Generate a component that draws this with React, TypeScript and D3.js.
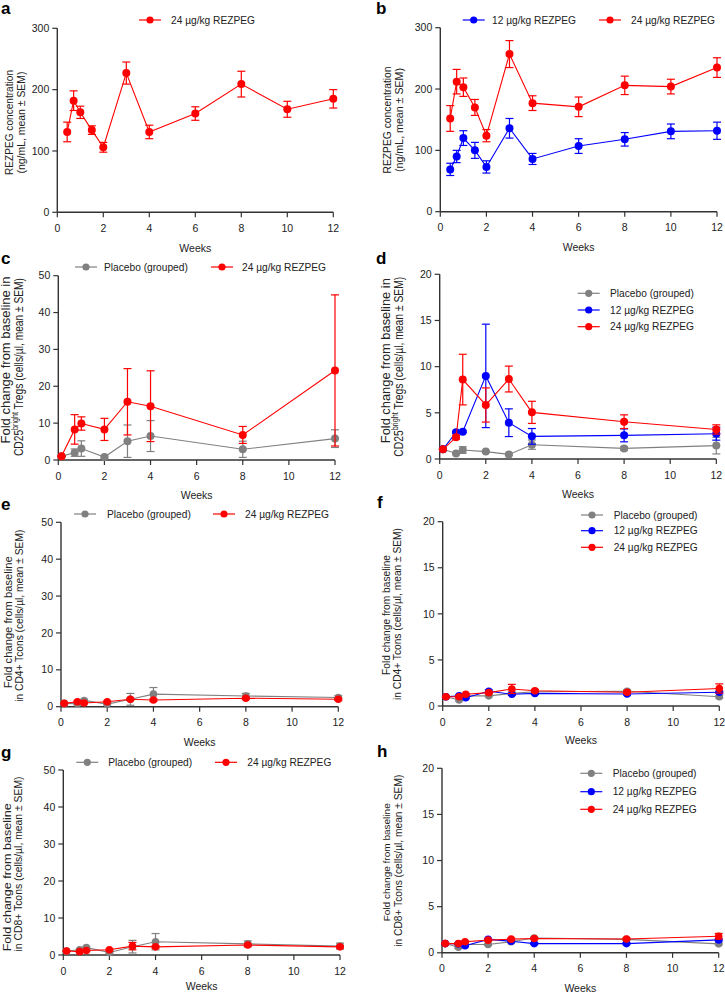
import React from "react";
import * as d3 from "d3";

// ---------- data ----------
const weeksPK = [0.43, 0.71, 1, 1.5, 2, 3, 4, 6, 8, 10, 12];
const weeksPD = [0.14, 0.71, 1, 2, 3, 4, 8, 12];
const xTicks = [0, 2, 4, 6, 8, 10, 12];
const yTicksPK = [0, 100, 200, 300];
const yTicksWide = [0, 10, 20, 30, 40, 50];
const yTicksNarrow = [0, 5, 10, 15, 20];

const seriesNames = ["Placebo (grouped)", "12 µg/kg REZPEG", "24 µg/kg REZPEG"];

// a: PK, 24 µg/kg
const aRez24Mean = [131, 182, 163, 134, 106, 227, 131, 161, 209, 168, 185];
const aRez24Sem = [16, 16, 10, 7, 8, 18, 11, 11, 21, 13, 15];
// b: PK, 12 and 24 µg/kg
const bRez12Mean = [69, 90, 120, 100, 73, 136, 86, 107, 118, 131, 132];
const bRez12Sem = [10, 10, 12, 13, 10, 16, 9, 12, 11, 12, 14];
const bRez24Mean = [152, 212, 203, 170, 124, 257, 177, 171, 206, 204, 235];
const bRez24Sem = [21, 20, 15, 13, 10, 22, 12, 16, 15, 12, 16];
// c: Tregs
const cPlaceboMean = [1.0, 2.0, 3.1, 0.8, 5.1, 6.5, 2.9, 5.8];
const cPlaceboSem = [0.2, 1.0, 2.1, 0.3, 4.4, 4.2, 2.2, 2.4];
const cRez24Mean = [1.0, 8.3, 9.9, 8.3, 15.8, 14.6, 6.8, 24.3];
const cRez24Sem = [0.1, 4.0, 1.8, 3.0, 9.0, 9.6, 2.3, 20.5];
// d: Tregs
const dPlaceboMean = [1.05, 0.6, 0.97, 0.8, 0.5, 1.55, 1.15, 1.45];
const dPlaceboSem = [0.05, 0.1, 0.35, 0.1, 0.1, 0.5, 0.2, 0.9];
const dRez12Mean = [1.05, 2.9, 2.96, 9.0, 3.93, 2.45, 2.56, 2.74];
const dRez12Sem = [0.05, 0.1, 0.1, 5.6, 1.5, 0.85, 0.7, 0.7];
const dRez24Mean = [1.05, 2.35, 8.6, 5.85, 8.66, 5.05, 4.04, 3.2];
const dRez24Sem = [0.05, 0.2, 2.74, 1.85, 1.4, 1.2, 0.74, 0.5];
// e: CD4+ Tcons
const ePlaceboMean = [0.9, 0.8, 1.7, 0.7, 2.0, 3.4, 2.9, 2.5];
const ePlaceboSem = [0.1, 0.2, 0.3, 0.2, 1.6, 1.8, 0.7, 0.5];
const eRez24Mean = [0.9, 1.35, 1.0, 1.35, 2.0, 1.8, 2.3, 2.0];
const eRez24Sem = [0.1, 0.2, 0.2, 0.2, 0.3, 0.3, 0.3, 0.3];
// f: CD4+ Tcons
const fPlaceboMean = [1.0, 0.65, 1.1, 1.1, 1.37, 1.55, 1.6, 1.0];
const fPlaceboSem = [0.05, 0.1, 0.1, 0.1, 0.15, 0.15, 0.15, 0.15];
const fRez12Mean = [1.0, 1.1, 0.9, 1.6, 1.27, 1.37, 1.3, 1.5];
const fRez12Sem = [0.05, 0.1, 0.1, 0.15, 0.1, 0.1, 0.1, 0.1];
const fRez24Mean = [1.0, 1.0, 1.27, 1.45, 1.85, 1.66, 1.5, 1.9];
const fRez24Sem = [0.05, 0.1, 0.1, 0.1, 0.5, 0.15, 0.15, 0.5];
// g: CD8+ Tcons
const gPlaceboMean = [1.1, 1.4, 2.0, 0.7, 2.25, 3.6, 3.0, 2.4];
const gPlaceboSem = [0.1, 0.2, 0.3, 0.2, 1.7, 2.2, 0.8, 0.8];
const gRez24Mean = [1.1, 0.9, 1.2, 1.4, 2.4, 2.2, 2.7, 2.2];
const gRez24Sem = [0.1, 0.2, 0.2, 0.2, 1.0, 0.3, 0.3, 0.3];
// h: CD8+ Tcons
const hPlaceboMean = [1.0, 0.6, 0.9, 0.9, 1.2, 1.6, 1.45, 0.97];
const hPlaceboSem = [0.05, 0.1, 0.1, 0.1, 0.1, 0.1, 0.1, 0.1];
const hRez12Mean = [1.0, 0.97, 0.76, 1.45, 1.26, 1.0, 1.0, 1.4];
const hRez12Sem = [0.05, 0.1, 0.1, 0.1, 0.1, 0.1, 0.1, 0.1];
const hRez24Mean = [1.0, 1.0, 1.2, 1.37, 1.48, 1.55, 1.5, 1.8];
const hRez24Sem = [0.05, 0.1, 0.1, 0.1, 0.1, 0.1, 0.1, 0.3];

// ---------- styles ----------
const FONT = "'Liberation Sans', Arial, sans-serif";
const GRAY = "#808080";
const BLUE = "#0000ff";
const RED = "#ff0000";
const AXIS = "#333333";

type Series = { name: string; color: string; x: number[]; mean: number[]; sem: number[] };
type YLine = { parts: { t: string; sup?: boolean }[]; x: number; cy: number; len: number; fs: number };
type LegendItem = { mx: number; tx: number; y: number };
type PanelCfg = {
  label: string;
  lx: number;
  ly: number;
  left: number;
  right: number;
  top: number;
  bottom: number;
  ymax: number;
  yTicks: number[];
  series: Series[];
  ytitle: YLine[];
  legend: LegendItem[];
  r: number;
  weeksDy: number;
};

function Panel({ cfg }: { cfg: PanelCfg }) {
  const x = d3.scaleLinear().domain([0, 12]).range([cfg.left, cfg.right]);
  const y = d3.scaleLinear().domain([0, cfg.ymax]).range([cfg.bottom, cfg.top]);
  const line = d3
    .line<[number, number]>()
    .x((d) => x(d[0]))
    .y((d) => y(d[1]));
  const cap = 4;
  return (
    <g>
      <text x={cfg.lx} y={cfg.ly} fontFamily={FONT} fontWeight="bold" fontSize={17} fill="#000">
        {cfg.label}
      </text>
      {/* axes */}
      <line x1={cfg.left} x2={cfg.left} y1={y(cfg.ymax)} y2={cfg.bottom} stroke={AXIS} strokeWidth={1.4} />
      <line x1={cfg.left} x2={cfg.right} y1={cfg.bottom} y2={cfg.bottom} stroke={AXIS} strokeWidth={1.4} />
      {cfg.yTicks.map((t) => (
        <g key={"y" + t}>
          <line x1={cfg.left - 5} x2={cfg.left} y1={y(t)} y2={y(t)} stroke={AXIS} strokeWidth={1.2} />
          <text x={cfg.left - 8} y={y(t)} dy="0.35em" textAnchor="end" fontFamily={FONT} fontSize={10.5} fill="#222">
            {t}
          </text>
        </g>
      ))}
      {xTicks.map((t) => (
        <g key={"x" + t}>
          <line x1={x(t)} x2={x(t)} y1={cfg.bottom} y2={cfg.bottom + 5} stroke={AXIS} strokeWidth={1.2} />
          <text x={x(t)} y={cfg.bottom + 16} dy="0.35em" textAnchor="middle" fontFamily={FONT} fontSize={10.5} fill="#222">
            {t}
          </text>
        </g>
      ))}
      <text
        x={(cfg.left + cfg.right) / 2}
        y={cfg.bottom + cfg.weeksDy}
        dy="0.35em"
        textAnchor="middle"
        fontFamily={FONT}
        fontSize={10.5}
        fill="#222"
      >
        Weeks
      </text>
      {cfg.ytitle.map((l, i) => (
        <text
          key={"yt" + i}
          transform={`translate(${l.x},${l.cy}) rotate(-90)`}
          textAnchor="middle"
          fontFamily={FONT}
          fontSize={l.fs}
          fill="#222"
          textLength={l.len}
          lengthAdjust="spacingAndGlyphs"
        >
          {l.parts.map((p, j) =>
            p.sup ? (
              <tspan key={j} fontSize={l.fs * 0.7} dy={-l.fs * 0.38}>
                {p.t}
              </tspan>
            ) : (
              <tspan key={j} dy={j > 0 && l.parts[j - 1].sup ? l.fs * 0.38 : 0}>
                {p.t}
              </tspan>
            )
          )}
        </text>
      ))}
      {/* series */}
      {cfg.series.map((s, si) => {
        const pts: [number, number][] = s.x.map((xv, i) => [xv, s.mean[i]]);
        return (
          <g key={"s" + si}>
            <path d={line(pts) || ""} fill="none" stroke={s.color} strokeWidth={1.1} />
            {s.x.map((xv, i) => {
              const hi = y(s.mean[i] + s.sem[i]);
              const lo = y(Math.max(0, s.mean[i] - s.sem[i]));
              const cx = x(xv);
              return (
                <g key={i} stroke={s.color} strokeWidth={1.2}>
                  <line x1={cx} x2={cx} y1={hi} y2={lo} />
                  <line x1={cx - cap} x2={cx + cap} y1={hi} y2={hi} />
                  <line x1={cx - cap} x2={cx + cap} y1={lo} y2={lo} />
                </g>
              );
            })}
            {s.x.map((xv, i) => (
              <circle key={"c" + i} cx={x(xv)} cy={y(s.mean[i])} r={cfg.r} fill={s.color} />
            ))}
          </g>
        );
      })}
      {/* legend */}
      {cfg.legend.map((lg, i) => {
        const s = cfg.series[i];
        return (
          <g key={"lg" + i}>
            <line x1={lg.mx - 11} x2={lg.mx + 11} y1={lg.y} y2={lg.y} stroke={s.color} strokeWidth={1.2} />
            <circle cx={lg.mx} cy={lg.y} r={3.6} fill={s.color} />
            <text x={lg.tx} y={lg.y} dy="0.35em" fontFamily={FONT} fontSize={10.2} fill="#222">
              {s.name}
            </text>
          </g>
        );
      })}
    </g>
  );
}

const mk = (name: string, color: string, xs: number[], mean: number[], sem: number[]): Series => ({
  name,
  color,
  x: xs,
  mean,
  sem,
});

const concLines = (x1: number, x2: number, cy: number, len1: number, len2: number): YLine[] => [
  { parts: [{ t: "REZPEG concentration" }], x: x1, cy, len: len1, fs: 10.2 },
  { parts: [{ t: "(ng/mL, mean ± SEM)" }], x: x2, cy, len: len2, fs: 10.3 },
];

const tregLine2 = (x: number, cy: number, len: number, fs: number): YLine => ({
  parts: [{ t: "CD25" }, { t: "bright", sup: true }, { t: " Tregs (cells/µl, mean ± SEM)" }],
  x,
  cy,
  len,
  fs,
});

const panels: PanelCfg[] = [
  {
    label: "a",
    lx: 1,
    ly: 14,
    left: 57.3,
    right: 333.3,
    top: 28.3,
    bottom: 212.3,
    ymax: 300,
    yTicks: yTicksPK,
    series: [mk(seriesNames[2], RED, weeksPK, aRez24Mean, aRez24Sem)],
    ytitle: concLines(12.5, 25, 122.5, 105, 102),
    legend: [{ mx: 150, tx: 171, y: 20 }],
    r: 4,
    weeksDy: 36,
  },
  {
    label: "b",
    lx: 376,
    ly: 14,
    left: 440.3,
    right: 717,
    top: 27.7,
    bottom: 211.7,
    ymax: 300,
    yTicks: yTicksPK,
    series: [
      mk(seriesNames[1], BLUE, weeksPK, bRez12Mean, bRez12Sem),
      mk(seriesNames[2], RED, weeksPK, bRez24Mean, bRez24Sem),
    ],
    ytitle: concLines(391, 403, 120, 107, 104),
    legend: [
      { mx: 473.7, tx: 492, y: 20 },
      { mx: 610, tx: 631, y: 20 },
    ],
    r: 4,
    weeksDy: 36,
  },
  {
    label: "c",
    lx: 1,
    ly: 264,
    left: 58.3,
    right: 335,
    top: 275.7,
    bottom: 460,
    ymax: 50,
    yTicks: yTicksWide,
    series: [
      mk(seriesNames[0], GRAY, weeksPD, cPlaceboMean, cPlaceboSem),
      mk(seriesNames[2], RED, weeksPD, cRez24Mean, cRez24Sem),
    ],
    ytitle: [
      { parts: [{ t: "Fold change from baseline in" }], x: 10, cy: 360, len: 167, fs: 12.5 },
      tregLine2(22.5, 367, 178, 12),
    ],
    legend: [
      { mx: 86, tx: 104, y: 267 },
      { mx: 222, tx: 242, y: 267 },
    ],
    r: 4,
    weeksDy: 35,
  },
  {
    label: "d",
    lx: 376,
    ly: 264,
    left: 439.7,
    right: 716.3,
    top: 274.3,
    bottom: 459,
    ymax: 20,
    yTicks: yTicksNarrow,
    series: [
      mk(seriesNames[0], GRAY, weeksPD, dPlaceboMean, dPlaceboSem),
      mk(seriesNames[1], BLUE, weeksPD, dRez12Mean, dRez12Sem),
      mk(seriesNames[2], RED, weeksPD, dRez24Mean, dRez24Sem),
    ],
    ytitle: [
      { parts: [{ t: "Fold change from baseline in" }], x: 390, cy: 360.7, len: 165, fs: 12.3 },
      tregLine2(402.5, 366.7, 180, 12),
    ],
    legend: [
      { mx: 588.7, tx: 610, y: 293.3 },
      { mx: 588.7, tx: 610, y: 310 },
      { mx: 588.7, tx: 610, y: 326.7 },
    ],
    r: 4,
    weeksDy: 35,
  },
  {
    label: "e",
    lx: 1,
    ly: 510,
    left: 61,
    right: 338.3,
    top: 522.3,
    bottom: 706.7,
    ymax: 50,
    yTicks: yTicksWide,
    series: [
      mk(seriesNames[0], GRAY, weeksPD, ePlaceboMean, ePlaceboSem),
      mk(seriesNames[2], RED, weeksPD, eRez24Mean, eRez24Sem),
    ],
    ytitle: [
      { parts: [{ t: "Fold change from baseline" }], x: 11.5, cy: 622.3, len: 132, fs: 10.8 },
      { parts: [{ t: "in CD4+ Tcons (cells/µl, mean ± SEM)" }], x: 22.5, cy: 615.7, len: 172, fs: 10.2 },
    ],
    legend: [
      { mx: 85, tx: 107, y: 514 },
      { mx: 224, tx: 245, y: 514 },
    ],
    r: 3.8,
    weeksDy: 36,
  },
  {
    label: "f",
    lx: 377,
    ly: 508,
    left: 442.7,
    right: 719.3,
    top: 521.7,
    bottom: 706,
    ymax: 20,
    yTicks: yTicksNarrow,
    series: [
      mk(seriesNames[0], GRAY, weeksPD, fPlaceboMean, fPlaceboSem),
      mk(seriesNames[1], BLUE, weeksPD, fRez12Mean, fRez12Sem),
      mk(seriesNames[2], RED, weeksPD, fRez24Mean, fRez24Sem),
    ],
    ytitle: [
      { parts: [{ t: "Fold change from baseline" }], x: 389.5, cy: 615, len: 120, fs: 10 },
      { parts: [{ t: "in CD4+ Tcons (cells/µl, mean ± SEM)" }], x: 401, cy: 614, len: 172, fs: 10.2 },
    ],
    legend: [
      { mx: 592, tx: 613.7, y: 515 },
      { mx: 592, tx: 613.7, y: 530.7 },
      { mx: 592, tx: 613.7, y: 547.3 },
    ],
    r: 3.8,
    weeksDy: 34,
  },
  {
    label: "g",
    lx: 1,
    ly: 758,
    left: 63.3,
    right: 340,
    top: 770,
    bottom: 955,
    ymax: 50,
    yTicks: yTicksWide,
    series: [
      mk(seriesNames[0], GRAY, weeksPD, gPlaceboMean, gPlaceboSem),
      mk(seriesNames[2], RED, weeksPD, gRez24Mean, gRez24Sem),
    ],
    ytitle: [
      { parts: [{ t: "Fold change from baseline" }], x: 11, cy: 877.3, len: 148, fs: 11.5 },
      { parts: [{ t: "in CD8+ Tcons (cells/µl, mean ± SEM)" }], x: 21.8, cy: 864, len: 175, fs: 10.3 },
    ],
    legend: [
      { mx: 87.3, tx: 108.3, y: 762.3 },
      { mx: 226, tx: 247.3, y: 762.3 },
    ],
    r: 3.8,
    weeksDy: 31.5,
  },
  {
    label: "h",
    lx: 377,
    ly: 757,
    left: 442,
    right: 718.7,
    top: 768.3,
    bottom: 952.8,
    ymax: 20,
    yTicks: yTicksNarrow,
    series: [
      mk(seriesNames[0], GRAY, weeksPD, hPlaceboMean, hPlaceboSem),
      mk(seriesNames[1], BLUE, weeksPD, hRez12Mean, hRez12Sem),
      mk(seriesNames[2], RED, weeksPD, hRez24Mean, hRez24Sem),
    ],
    ytitle: [
      { parts: [{ t: "Fold change from baseline" }], x: 389.5, cy: 862.3, len: 118, fs: 9.8 },
      { parts: [{ t: "in CD8+ Tcons (cells/µl, mean ± SEM)" }], x: 401.5, cy: 860.7, len: 172, fs: 10.1 },
    ],
    legend: [
      { mx: 591.3, tx: 612.7, y: 773.3 },
      { mx: 591.3, tx: 612.7, y: 791.7 },
      { mx: 591.3, tx: 612.7, y: 809.3 },
    ],
    r: 3.8,
    weeksDy: 36,
  },
];

export default function App() {
  return (
    <svg
      width={725}
      height={995}
      viewBox="0 0 725 995"
      style={{ position: "absolute", left: 0, top: 0, background: "#fff" }}
    >
      <rect x={0} y={0} width={725} height={995} fill="#fff" />
      {panels.map((p) => (
        <Panel key={p.label} cfg={p} />
      ))}
    </svg>
  );
}
